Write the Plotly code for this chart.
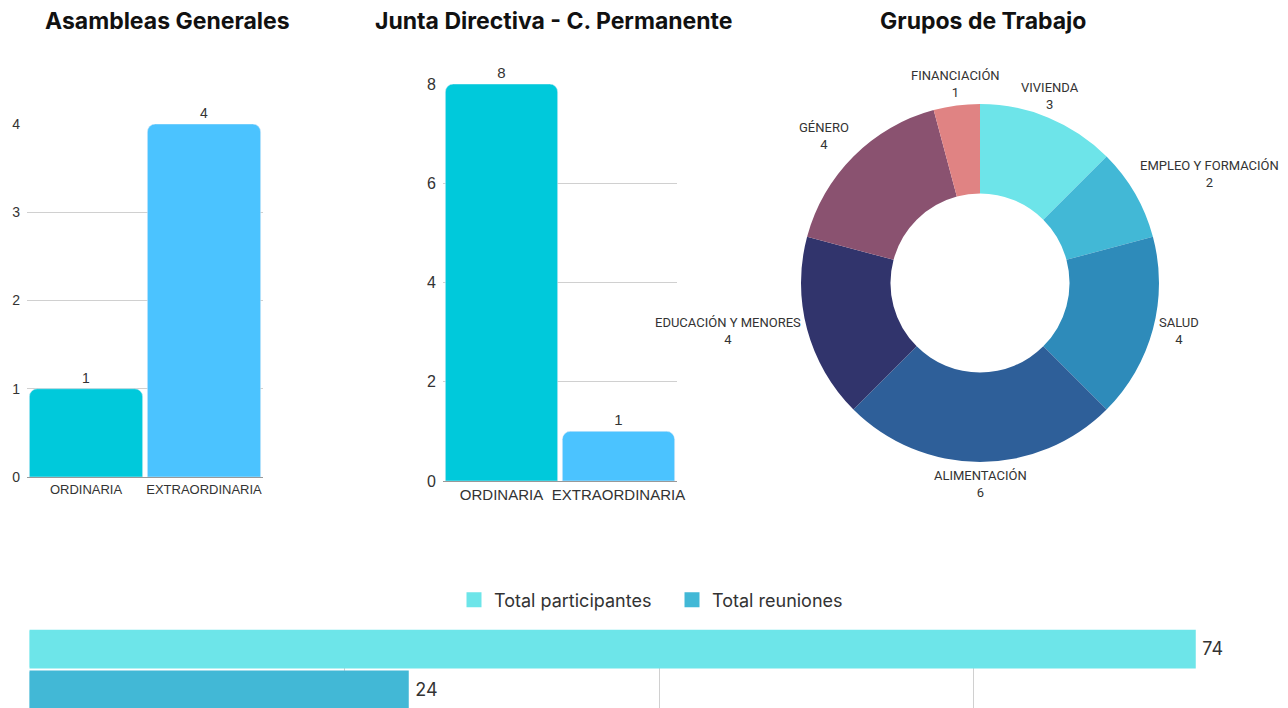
import math
import plotly.graph_objects as go

# ---- data ----
asamblea_cats = ["ORDINARIA", "EXTRAORDINARIA"]
asamblea_vals = [1, 4]
junta_cats = ["ORDINARIA", "EXTRAORDINARIA"]
junta_vals = [8, 1]
grupos_labels = ["VIVIENDA", "EMPLEO Y FORMACIÓN", "SALUD", "ALIMENTACIÓN",
                 "EDUCACIÓN Y MENORES", "GÉNERO", "FINANCIACIÓN"]
grupos_vals = [3, 2, 4, 6, 4, 4, 1]
totals_names = ["Total participantes", "Total reuniones"]
totals_vals = [74, 24]
titles = ["Asambleas Generales", "Junta Directiva - C. Permanente", "Grupos de Trabajo"]

# ---- styles / layout constants ----
W, H = 1288, 708
FONT = "Liberation Sans, Arial, sans-serif"
TFONT = "Inter, Liberation Sans, sans-serif"
PFONT = "Roboto, Liberation Sans, sans-serif"
TXT = "#333333"
GRID = "#d0d0d0"
bar_colors = ["#00c9db", "#4bc3ff"]
pie_colors = ["#6de4e9", "#42b8d6", "#2e8bba", "#2e5f99", "#31346c", "#8a5270", "#e08383"]
total_colors = ["#6de5e9", "#42b8d6"]
PIE_CX, PIE_CY, PIE_R = 980, 283, 179  # pixel geometry of the donut
LABEL_GAP = 5

def px_x(x):
    return x / W

def px_y(y):
    return (H - y) / H

fig = go.Figure()

fig.add_trace(go.Bar(
    x=asamblea_cats, y=asamblea_vals, marker=dict(color=bar_colors, cornerradius=8),
    text=asamblea_vals, textposition="outside", cliponaxis=False,
    textfont=dict(size=14, color=TXT), xaxis="x", yaxis="y", showlegend=False))

fig.add_trace(go.Bar(
    x=junta_cats, y=junta_vals, marker=dict(color=bar_colors, cornerradius=8),
    text=junta_vals, textposition="outside", cliponaxis=False,
    textfont=dict(size=15, color=TXT), xaxis="x2", yaxis="y2", showlegend=False))

fig.add_trace(go.Pie(
    labels=grupos_labels, values=grupos_vals, hole=0.5, sort=False,
    direction="clockwise", rotation=0, automargin=False,
    marker=dict(colors=pie_colors, line=dict(width=0)),
    textinfo="none", showlegend=False,
    domain=dict(x=[px_x(PIE_CX - PIE_R), px_x(PIE_CX + PIE_R)],
                y=[px_y(PIE_CY + PIE_R), px_y(PIE_CY - PIE_R)])))

# donut labels: at each slice's mid-angle, just outside the ring (hidden pixel axes x4/y4)
total = sum(grupos_vals)
cum = 0
for lab, v in zip(grupos_labels, grupos_vals):
    mid = (cum + v / 2) / total * 2 * math.pi
    cum += v
    dx, dy = math.sin(mid), -math.cos(mid)
    r = PIE_R + LABEL_GAP
    xa = "left" if dx > 0.5 else ("right" if dx < -0.5 else "center")
    ya = "bottom" if dy < -0.45 else ("top" if dy > 0.45 else "middle")
    fig.add_annotation(
        x=PIE_CX + dx * r, y=PIE_CY + dy * r, xref="x4", yref="y4",
        text="%s<br>%d" % (lab, v), showarrow=False, align="center",
        xanchor=xa, yanchor=ya, borderpad=0,
        font=dict(size=13, color=TXT, family=PFONT))

# bottom totals: two traces, numeric y positions
U = 15.74
X0 = 29.5
for i, (name, val) in enumerate(zip(totals_names, totals_vals)):
    fig.add_trace(go.Bar(
        name=name, x=[val], y=[1 - i], orientation="h", width=0.88,
        marker=dict(color=total_colors[i], line=dict(color=total_colors[i], width=3)),
        text=[val], texttemplate="\u00a0%{text}", textposition="outside", cliponaxis=False,
        textfont=dict(size=18, color=TXT, family=TFONT), xaxis="x3", yaxis="y3"))

for t, cx in zip(titles, [167, 554, 983]):
    fig.add_annotation(text="<b>%s</b>" % t, x=px_x(cx), y=px_y(21), xref="paper", yref="paper",
                       showarrow=False, xanchor="center", yanchor="middle",
                       font=dict(size=23, color="#111111", family=TFONT))

common_y = dict(showgrid=True, gridcolor=GRID, gridwidth=1, zeroline=False, automargin=False,
                ticks="", ticklabelstandoff=6, fixedrange=True)
common_x = dict(showline=True, linecolor="#999999", linewidth=1, ticks="", automargin=False,
                fixedrange=True)

fig.update_layout(
    width=W, height=H, margin=dict(l=0, r=0, t=0, b=0, autoexpand=False),
    paper_bgcolor="white", plot_bgcolor="rgba(0,0,0,0)",
    font=dict(family=FONT, color=TXT),
    bargap=0.04,
    xaxis=dict(domain=[px_x(27), px_x(263)], anchor="y", tickfont=dict(size=13, color=TXT), **common_x),
    yaxis=dict(domain=[px_y(477), px_y(124)], range=[0, 4], dtick=1, anchor="x",
               tickfont=dict(size=14, color=TXT), **common_y),
    xaxis2=dict(domain=[px_x(443), px_x(677)], anchor="y2", tickfont=dict(size=15, color=TXT), **common_x),
    yaxis2=dict(domain=[px_y(481), px_y(84)], range=[0, 8], dtick=2, anchor="x2",
                tickfont=dict(size=16, color=TXT), **common_y),
    xaxis3=dict(domain=[px_x(X0), 1], range=[0, (W - X0) / U], dtick=20,
                showgrid=True, gridcolor=GRID, zeroline=False, showticklabels=False,
                automargin=False, anchor="y3", fixedrange=True),
    yaxis3=dict(domain=[0, px_y(629.5)], range=[-0.44, 1.475], showgrid=False,
                zeroline=False, showticklabels=False, automargin=False, anchor="x3", fixedrange=True),
    xaxis4=dict(domain=[0, 1], range=[0, W], visible=False, anchor="y4", fixedrange=True),
    yaxis4=dict(domain=[0, 1], range=[H, 0], visible=False, anchor="x4", fixedrange=True),
    legend=dict(orientation="h", x=px_x(454), xanchor="left", y=px_y(600), yanchor="middle",
                entrywidth=173, font=dict(size=18, color=TXT, family=TFONT), traceorder="normal"),
)

fig.write_html("out.html", post_script="document.body.style.margin='0';",
               config={"displayModeBar": False})
